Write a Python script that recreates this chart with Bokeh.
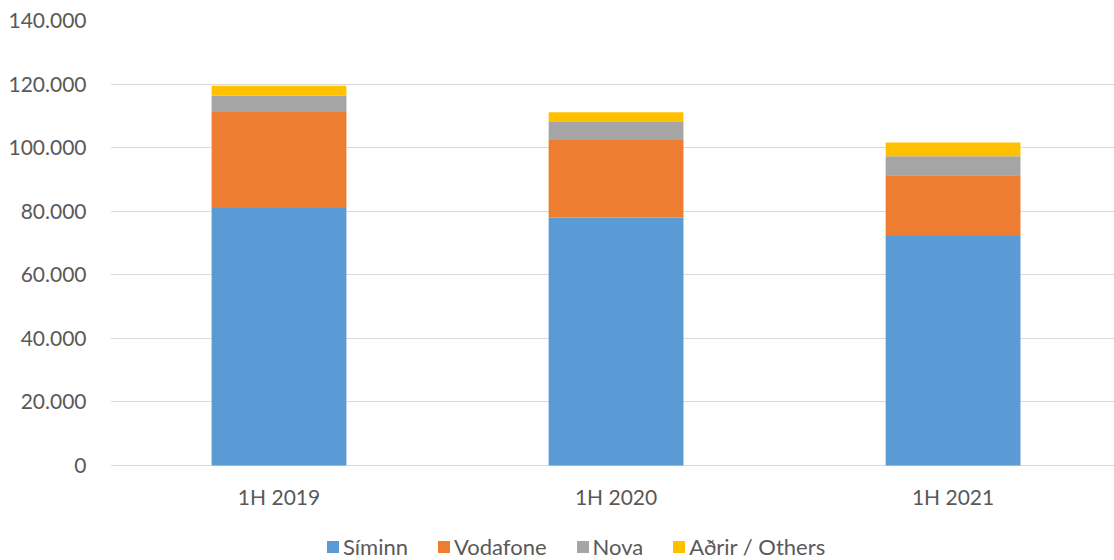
from bokeh.plotting import figure
from bokeh.models import ColumnDataSource, Range1d, FixedTicker, Legend, LegendItem
from bokeh.core.properties import value
from bokeh.embed import file_html
from bokeh.resources import INLINE

periods = ["1H 2019", "1H 2020", "1H 2021"]
siminn = [81000, 78000, 72200]
vodafone = [30200, 24400, 19100]
nova = [5100, 5700, 6000]
others = [3200, 3000, 4300]
series_names = ["Síminn", "Vodafone", "Nova", "Aðrir / Others"]
colors = ["#5B9BD5", "#ED7D31", "#A5A5A5", "#FFC000"]
y_ticks = [0, 20000, 40000, 60000, 80000, 100000, 120000, 140000]
y_tick_labels = ["0", "20.000", "40.000", "60.000", "80.000", "100.000", "120.000", "140.000"]

FONT = "Lato"
TXT = "#595959"

# layout (pixels)
W, H = 1114, 560
TOP, LEFT = 20, 110
PLOT_H = 445          # pixel height from 0 to 140.000
FRAME_H = H - TOP     # frame runs to the bottom of the figure
y_max = y_ticks[-1]
y_min = -y_max * (FRAME_H - PLOT_H) / PLOT_H

x = [i + 0.5 for i in range(len(periods))]
keys = ["siminn", "vodafone", "nova", "others"]
src = ColumnDataSource(dict(x=x, siminn=siminn, vodafone=vodafone, nova=nova, others=others))

p = figure(width=W, height=H, output_backend="svg", toolbar_location=None,
           x_axis_location=None,
           x_range=Range1d(0, 2.979), y_range=Range1d(y_min, y_max))
p.min_border_left = LEFT
p.min_border_right = 0
p.min_border_top = TOP
p.min_border_bottom = 0
p.outline_line_color = None

rs = p.vbar_stack(keys, x="x", width=0.4, source=src, color=colors, line_color=None)

# category labels under the baseline
p.text(x=x, y=[0] * len(x), text=periods, y_offset=31,
       text_align="center", text_baseline="middle",
       text_font=value(FONT), text_font_size="21px", text_color=TXT)

p.xgrid.grid_line_color = None
p.ygrid.grid_line_color = "#D9D9D9"
p.ygrid.grid_line_width = 1
p.ygrid.ticker = FixedTicker(ticks=y_ticks)

ax = p.yaxis[0]
ax.ticker = FixedTicker(ticks=y_ticks)
ax.major_label_overrides = {t: l for t, l in zip(y_ticks, y_tick_labels)}
ax.axis_line_color = None
ax.major_tick_line_color = None
ax.minor_tick_line_color = None
ax.major_tick_out = 0
ax.major_tick_in = 0
ax.minor_tick_out = 0
ax.minor_tick_in = 0
ax.major_label_text_font = FONT
ax.major_label_text_font_size = "21px"
ax.major_label_text_color = TXT
ax.major_label_standoff = 24

legend = Legend(items=[LegendItem(label=n, renderers=[r]) for n, r in zip(series_names, rs)],
                orientation="horizontal", location=(215, 0))
legend.glyph_width = 15
legend.glyph_height = 15
legend.label_standoff = 3
legend.spacing = 28
legend.padding = 0
legend.margin = 0
legend.border_line_color = None
legend.background_fill_alpha = 0
legend.label_text_font = FONT
legend.label_text_font_size = "22px"
legend.label_text_color = TXT
p.add_layout(legend, "center")

open("out.html", "w").write(file_html(p, INLINE))
